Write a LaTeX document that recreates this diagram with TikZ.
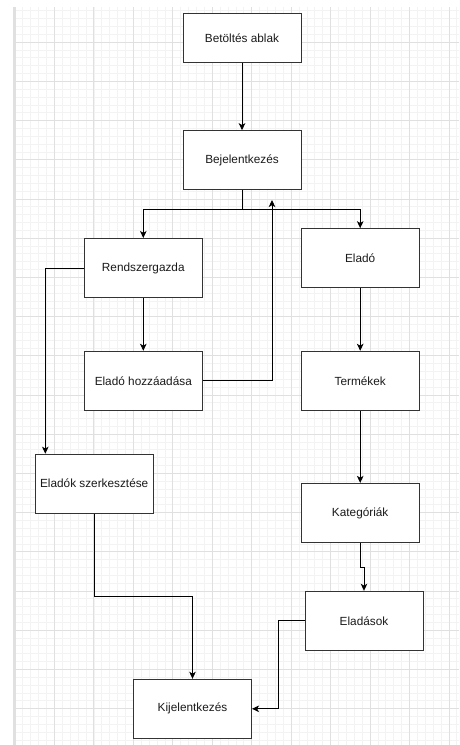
\documentclass[tikz,border=0pt]{standalone}
\usepackage{fontspec}
\setmainfont{Liberation Sans}
\usetikzlibrary{arrows.meta}
\definecolor{gridminor}{HTML}{F3F3F3}
\definecolor{gridmajor}{HTML}{E0E0E0}
\definecolor{boxline}{HTML}{333333}
\definecolor{txt}{HTML}{1A1A1A}
\tikzset{
  stepbox/.style={draw=boxline, line width=1pt, fill=white, minimum width=118pt, minimum height=59pt, inner sep=0pt, text=txt, font=\fontsize{11.8}{14}\selectfont},
  conn/.style={draw=black, line width=0.9pt, -{Stealth[length=7pt,width=6.5pt,inset=1.8pt]}},
}
\begin{document}
\begin{tikzpicture}[x=1pt,y=-1pt]
\useasboundingbox (0,0) rectangle (459,745);
\fill[white] (0,0) rectangle (459,745);
% minor grid
\foreach \i in {0,...,56} {
  \draw[gridminor, line width=0.8pt] ({15+\i*7.89},7) -- ({15+\i*7.89},745);
}
\foreach \j in {1,...,94} {
  \draw[gridminor, line width=0.8pt] (15,{3+\j*7.84}) -- (459,{3+\j*7.84});
}
% major grid
\foreach \i in {0,...,11} {
  \draw[gridmajor, line width=0.9pt] ({15+\i*39.45},7) -- ({15+\i*39.45},745);
}
\foreach \j in {1,...,18} {
  \draw[gridmajor, line width=0.9pt] (15,{3+\j*39.2}) -- (459,{3+\j*39.2});
}
\draw[gridmajor, line width=1.5pt] (14,7) -- (14,745);

% nodes
\node[stepbox, minimum height=49pt] (bet) at (242,38) {Betöltés ablak};
\node[stepbox] (bej) at (242,160.2) {Bejelentkezés};
\node[stepbox] (rend) at (143.3,268) {Rendszergazda};
\node[stepbox] (elado) at (360.2,258.2) {Eladó};
\node[stepbox] (ehozz) at (143.3,380.8) {Eladó hozzáadása};
\node[stepbox] (term) at (360.2,380.8) {Termékek};
\node[stepbox] (eszerk) at (94.2,483.7) {Eladók szerkesztése};
\node[stepbox] (kat) at (360.2,512.9) {Kategóriák};
\node[stepbox] (eladas) at (364,620.8) {Eladások};
\node[stepbox] (kij) at (192.5,708.8) {Kijelentkezés};

\coordinate (split) at (242,209);
\coordinate (backtip) at (272,200);

% connectors
\draw[conn] (bet) -- (bej);
\draw[conn] (bej.south) -- (split) -| (rend.north);
\draw[conn] (split) -| (elado.north);
\draw[conn] (ehozz.east) -| (backtip);
\draw[conn] (rend.west) -| (45.3,0 |- eszerk.north);
\draw[conn] (rend) -- (ehozz);
\draw[conn] (elado) -- (term);
\draw[conn] (term) -- (kat);
\draw[conn] (kat.south) -- (kat.south |- 0,567.3) -| (eladas.north);
\draw[conn] (eladas.west) -- (278.3,0 |- eladas.west) |- (kij.east);
\draw[conn] (eszerk.south) -- (eszerk.south |- 0,596.3) -| (kij.north);
\end{tikzpicture}
\end{document}
